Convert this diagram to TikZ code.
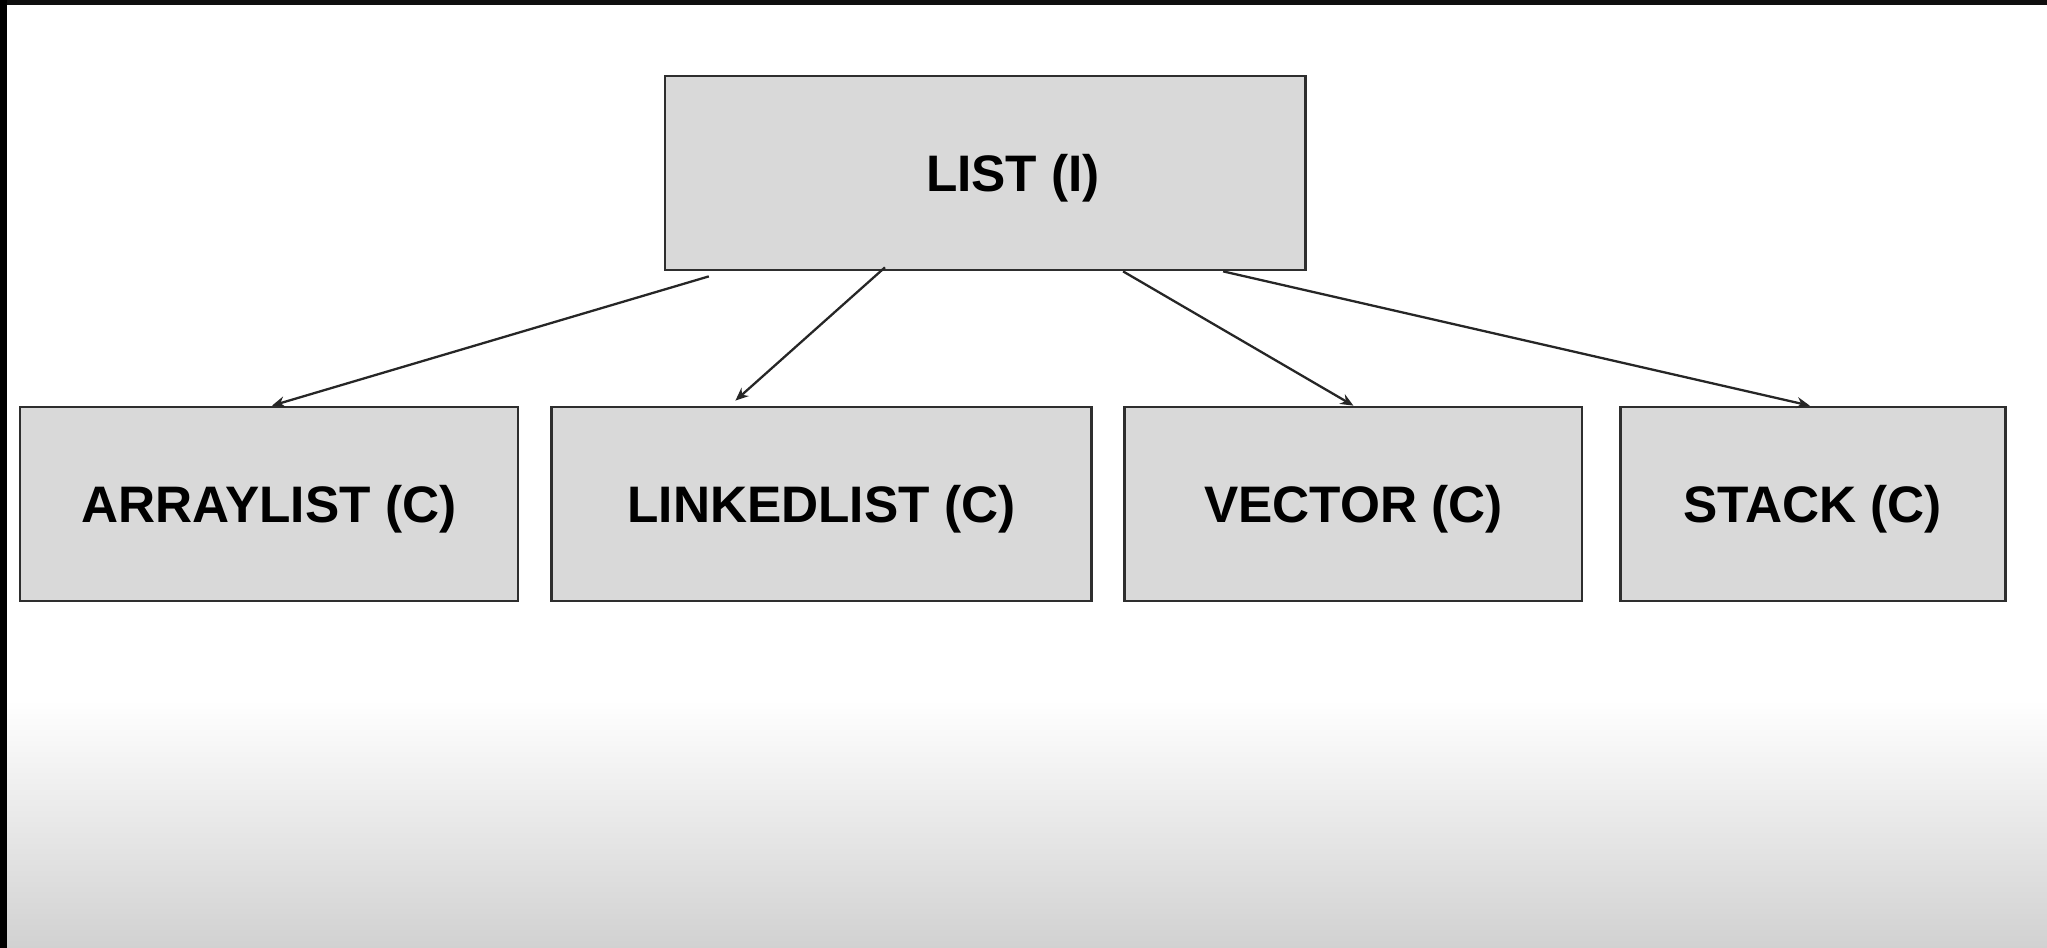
\documentclass[tikz,border=0pt]{standalone}
\usepackage{fontspec}
\setmainfont{Liberation Sans}
\usetikzlibrary{arrows.meta,positioning}
\definecolor{boxgray}{HTML}{D9D9D9}
\definecolor{edgegray}{HTML}{2E2E2E}

\begin{document}
\begin{tikzpicture}[
      x=0.01cm,y=-0.01cm,
      node distance = 5mm and 0.305cm,
      classbox/.style = {rectangle,draw=edgegray,fill=boxgray,line width=0.75pt,minimum height=1.94cm,text depth=0pt,text centered,font=\fontsize{14.6}{17}\selectfont\bfseries},
      arrow/.style = {-{Stealth[length=1.3mm,width=1.1mm]},line width=0.65pt,draw=black!85}
    ]
      \useasboundingbox (0,0) rectangle (2047,948);
      \fill[white] (0,0) rectangle (2047,700);
      \shade[top color=white,bottom color=black!18] (0,700) rectangle (2047,948);
      \fill[black!94] (0,0) rectangle (2047,5);
      \fill[black] (0,0) rectangle (7,948);
      \node (list)[classbox,minimum width=6.40cm] at (985,173) {\hspace*{0.56cm}LIST (I)};
      \node (arraylist)[classbox,minimum width=4.98cm] at (269,504) {ARRAYLIST (C)};
      \node (linkedlist)[classbox,minimum width=5.40cm,right = of arraylist]{LINKEDLIST (C)};
      \node (vector)[classbox,minimum width=4.57cm,right = of linkedlist]{VECTOR (C)};
      \node (stack)[classbox,minimum width=3.85cm,right = 0.355cm of vector]{STACK (C)};
      \draw [arrow] ([xshift=-2.76cm,yshift=-0.05cm]list.south) -- ([xshift=0.03cm]arraylist.north);
      \draw [arrow] ([xshift=-1.00cm,yshift=0.04cm]list.south) -- ([xshift=-0.86cm,yshift=0.05cm]linkedlist.north);
      \draw [arrow] ([xshift=1.38cm]list.south) -- (vector.north);
      \draw [arrow] ([xshift=2.38cm]list.south) -- ([xshift=-0.03cm]stack.north);
    \end{tikzpicture}
\end{document}
